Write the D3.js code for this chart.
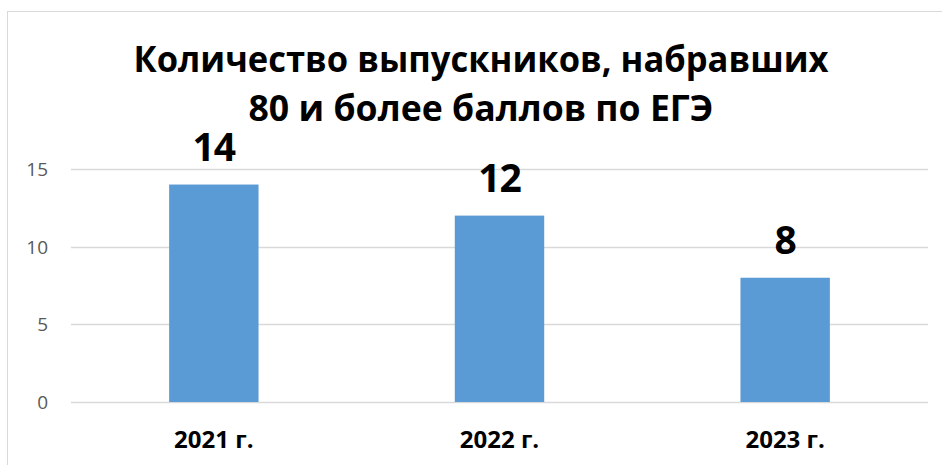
<!DOCTYPE html>
<meta charset="utf-8">
<script src="https://cdn.jsdelivr.net/npm/d3@7"></script>
<style>
  body { margin: 0; background: #fff; }
</style>
<div id="my_dataviz"></div>
<script>

// data
var years = ["2021 г.", "2022 г.", "2023 г."];
var counts = [14, 12, 8];
var yTicks = [0, 5, 10, 15];
var titleLines = ["Количество выпускников, набравших", "80 и более баллов по ЕГЭ"];

var W = 942, H = 465;
var margin = {top: 169, right: 14, bottom: 63, left: 71};
var width = W - margin.left - margin.right,
    height = H - margin.top - margin.bottom;

var svg = d3.select("#my_dataviz")
  .append("svg")
    .attr("width", W)
    .attr("height", H)
    .style("font-family", "'Open Sans', 'Noto Sans', sans-serif");

// chart frame
svg.append("rect")
  .attr("x", 7.5).attr("y", 11.5)
  .attr("width", W).attr("height", H)
  .attr("fill", "none")
  .attr("stroke", "#d9d9d9");

var g = svg.append("g")
  .attr("transform", "translate(" + margin.left + "," + margin.top + ")");

var x = d3.scaleBand()
  .domain(years)
  .range([0, width])
  .paddingInner(0.687)
  .paddingOuter(0.3435);

var y = d3.scaleLinear()
  .domain([0, 15])
  .range([height, 0]);

// gridlines
g.selectAll(".grid")
  .data(yTicks)
  .enter()
  .append("line")
    .attr("x1", 0).attr("x2", width)
    .attr("y1", d => Math.round(y(d)) + 0.5)
    .attr("y2", d => Math.round(y(d)) + 0.5)
    .attr("stroke", "#d9d9d9")
    .attr("stroke-width", 1.5);

// y tick labels
g.selectAll(".ytick")
  .data(yTicks)
  .enter()
  .append("text")
    .attr("x", -23)
    .attr("y", d => y(d))
    .attr("dy", "0.36em")
    .attr("text-anchor", "end")
    .attr("font-size", 19)
    .attr("fill", "#595959")
    .text(d => d);

// bars
g.selectAll(".bar")
  .data(counts)
  .enter()
  .append("rect")
    .attr("x", (d, i) => x(years[i]))
    .attr("y", d => y(d))
    .attr("width", x.bandwidth())
    .attr("height", d => height - y(d))
    .attr("fill", "#5b9bd5");

// value labels
g.selectAll(".val")
  .data(counts)
  .enter()
  .append("text")
    .attr("x", (d, i) => x(years[i]) + x.bandwidth() / 2)
    .attr("y", d => y(d) - 24)
    .attr("text-anchor", "middle")
    .attr("font-size", 39)
    .attr("font-weight", "bold")
    .attr("fill", "#000")
    .attr("letter-spacing", "-1")
    .text(d => d);

// x labels
g.selectAll(".xlab")
  .data(years)
  .enter()
  .append("text")
    .attr("x", d => x(d) + x.bandwidth() / 2)
    .attr("y", height + 46)
    .attr("text-anchor", "middle")
    .attr("font-size", 24)
    .attr("font-weight", "bold")
    .attr("fill", "#000")
    .text(d => d);

// title
var titleW = [695, 465];
svg.selectAll(".title")
  .data(titleLines)
  .enter()
  .append("text")
    .attr("x", 481)
    .attr("y", (d, i) => 72 + i * 49)
    .attr("text-anchor", "middle")
    .attr("font-size", 35)
    .attr("font-weight", "bold")
    .attr("fill", "#000")
    .text(d => d)
    .attr("textLength", (d, i) => titleW[i])
    .attr("lengthAdjust", "spacingAndGlyphs");

</script>
</body></html>
